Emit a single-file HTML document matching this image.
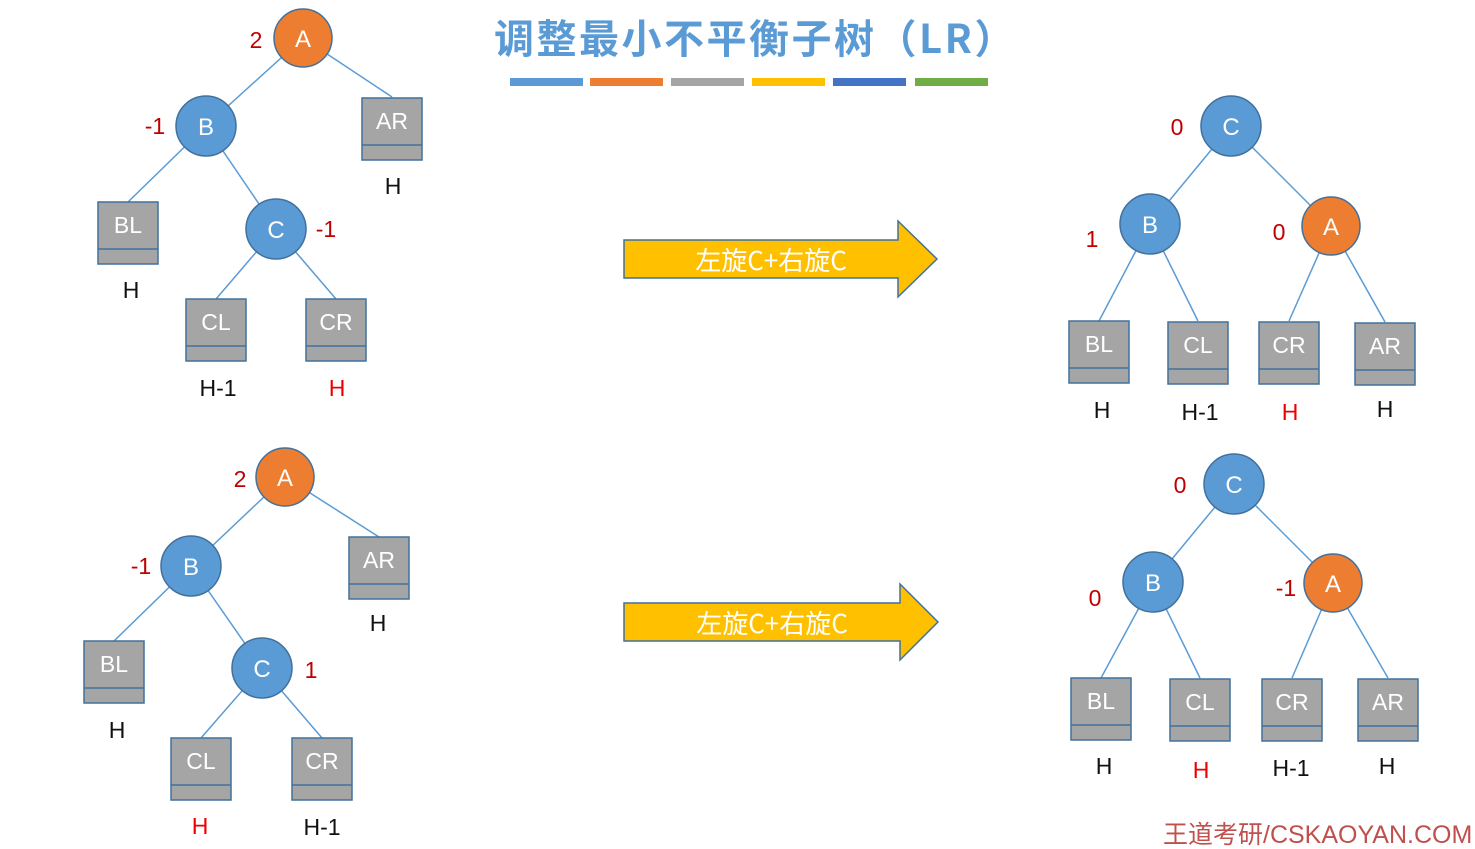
<!DOCTYPE html>
<html><head><meta charset="utf-8"><style>
html,body{margin:0;padding:0;background:#fff;width:1475px;height:849px;overflow:hidden}
svg{display:block}
</style></head><body>
<svg width="1475" height="849" viewBox="0 0 1475 849" xmlns="http://www.w3.org/2000/svg" font-family="Liberation Sans, Noto Sans CJK SC, sans-serif">
<defs>
<g id="bx"><rect x="0" y="0" width="60" height="62" fill="#a5a5a5" stroke="#41719c" stroke-width="1.5"/><line x1="0" y1="47" x2="60" y2="47" stroke="#41719c" stroke-width="1.5"/></g>
</defs>
<text x="494" y="53" font-size="40" fill="#5b9bd5" font-weight="bold" letter-spacing="2.5" font-family="Noto Sans CJK SC, sans-serif">调整最小不平衡子树（LR）</text>
<rect x="510" y="78" width="73" height="8" fill="#5b9bd5"/>
<rect x="590" y="78" width="73" height="8" fill="#ed7d31"/>
<rect x="671" y="78" width="73" height="8" fill="#a5a5a5"/>
<rect x="752" y="78" width="73" height="8" fill="#ffc000"/>
<rect x="833" y="78" width="73" height="8" fill="#4472c4"/>
<rect x="915" y="78" width="73" height="8" fill="#70ad47"/>

<g stroke="#5b9bd5" stroke-width="1.5">
<line x1="303" y1="38" x2="206" y2="126"/><line x1="303" y1="38" x2="392" y2="97"/>
<line x1="206" y1="126" x2="128" y2="202"/><line x1="206" y1="126" x2="276" y2="229"/>
<line x1="276" y1="229" x2="216" y2="299"/><line x1="276" y1="229" x2="336" y2="299"/>
<line x1="285" y1="477" x2="191" y2="566"/><line x1="285" y1="477" x2="379" y2="537"/>
<line x1="191" y1="566" x2="114" y2="641"/><line x1="191" y1="566" x2="262" y2="668"/>
<line x1="262" y1="668" x2="201" y2="738"/><line x1="262" y1="668" x2="322" y2="738"/>
<line x1="1231" y1="126" x2="1150" y2="224"/><line x1="1231" y1="126" x2="1331" y2="226"/>
<line x1="1150" y1="224" x2="1099" y2="321"/><line x1="1150" y1="224" x2="1198" y2="321"/>
<line x1="1331" y1="226" x2="1289" y2="321"/><line x1="1331" y1="226" x2="1385" y2="322"/>
<line x1="1234" y1="484" x2="1153" y2="582"/><line x1="1234" y1="484" x2="1333" y2="583"/>
<line x1="1153" y1="582" x2="1101" y2="678"/><line x1="1153" y1="582" x2="1200" y2="678"/>
<line x1="1333" y1="583" x2="1292" y2="678"/><line x1="1333" y1="583" x2="1388" y2="678"/>
</g>

<g stroke="#41719c" stroke-width="1.5">
<circle cx="303" cy="38" r="29" fill="#ed7d31"/><circle cx="206" cy="126" r="30" fill="#5b9bd5"/><circle cx="276" cy="229" r="30" fill="#5b9bd5"/>
<circle cx="285" cy="477" r="29" fill="#ed7d31"/><circle cx="191" cy="566" r="30" fill="#5b9bd5"/><circle cx="262" cy="668" r="30" fill="#5b9bd5"/>
<circle cx="1231" cy="126" r="30" fill="#5b9bd5"/><circle cx="1150" cy="224" r="30" fill="#5b9bd5"/><circle cx="1331" cy="226" r="29" fill="#ed7d31"/>
<circle cx="1234" cy="484" r="30" fill="#5b9bd5"/><circle cx="1153" cy="582" r="30" fill="#5b9bd5"/><circle cx="1333" cy="583" r="29" fill="#ed7d31"/>
</g>
<g fill="#fff" font-size="24" text-anchor="middle">
<text x="303" y="47">A</text><text x="206" y="135">B</text><text x="276" y="238">C</text>
<text x="285" y="486">A</text><text x="191" y="575">B</text><text x="262" y="677">C</text>
<text x="1231" y="135">C</text><text x="1150" y="233">B</text><text x="1331" y="235">A</text>
<text x="1234" y="493">C</text><text x="1153" y="591">B</text><text x="1333" y="592">A</text>
</g>

<use href="#bx" x="362" y="98"/><use href="#bx" x="98" y="202"/><use href="#bx" x="186" y="299"/><use href="#bx" x="306" y="299"/>
<use href="#bx" x="349" y="537"/><use href="#bx" x="84" y="641"/><use href="#bx" x="171" y="738"/><use href="#bx" x="292" y="738"/>
<use href="#bx" x="1069" y="321"/><use href="#bx" x="1168" y="322"/><use href="#bx" x="1259" y="322"/><use href="#bx" x="1355" y="323"/>
<use href="#bx" x="1071" y="678"/><use href="#bx" x="1170" y="679"/><use href="#bx" x="1262" y="679"/><use href="#bx" x="1358" y="679"/>
<g fill="#fff" font-size="23" text-anchor="middle">
<text x="392" y="129">AR</text><text x="128" y="233">BL</text><text x="216" y="330">CL</text><text x="336" y="330">CR</text>
<text x="379" y="568">AR</text><text x="114" y="672">BL</text><text x="201" y="769">CL</text><text x="322" y="769">CR</text>
<text x="1099" y="352">BL</text><text x="1198" y="353">CL</text><text x="1289" y="353">CR</text><text x="1385" y="354">AR</text>
<text x="1101" y="709">BL</text><text x="1200" y="710">CL</text><text x="1292" y="710">CR</text><text x="1388" y="710">AR</text>
</g>

<g font-size="23" text-anchor="middle" fill="#111">
<text x="393" y="194">H</text><text x="131" y="298">H</text><text x="218" y="396">H-1</text><text x="337" y="396" fill="#e00">H</text>
<text x="378" y="631">H</text><text x="117" y="738">H</text><text x="200" y="834" fill="#e00">H</text><text x="322" y="835">H-1</text>
<text x="1102" y="418">H</text><text x="1200" y="420">H-1</text><text x="1290" y="420" fill="#e00">H</text><text x="1385" y="417">H</text>
<text x="1104" y="774">H</text><text x="1201" y="778" fill="#e00">H</text><text x="1291" y="776">H-1</text><text x="1387" y="774">H</text>
</g>
<g font-size="23" text-anchor="middle" fill="#c00000">
<text x="256" y="48">2</text><text x="155" y="134">-1</text><text x="326" y="237">-1</text>
<text x="240" y="487">2</text><text x="141" y="574">-1</text><text x="311" y="678">1</text>
<text x="1177" y="135">0</text><text x="1092" y="247">1</text><text x="1279" y="240">0</text>
<text x="1180" y="493">0</text><text x="1095" y="606">0</text><text x="1286" y="596">-1</text>
</g>

<polygon points="624,240 898,240 898,221 937,259 898,297 898,278 624,278" fill="#ffc000" stroke="#41719c" stroke-width="1.5"/>
<text x="771" y="270" font-size="26" fill="#fff" text-anchor="middle" font-family="Noto Sans CJK SC, sans-serif">左旋C+右旋C</text>
<polygon points="624,603 900,603 900,584 938,622 900,660 900,641 624,641" fill="#ffc000" stroke="#41719c" stroke-width="1.5"/>
<text x="772" y="633" font-size="26" fill="#fff" text-anchor="middle" font-family="Noto Sans CJK SC, sans-serif">左旋C+右旋C</text>

<text x="1163" y="843" font-size="25" fill="#c0504d" font-family="Liberation Sans, Noto Sans CJK SC, sans-serif">王道考研/CSKAOYAN.COM</text>
</svg>
</body></html>
